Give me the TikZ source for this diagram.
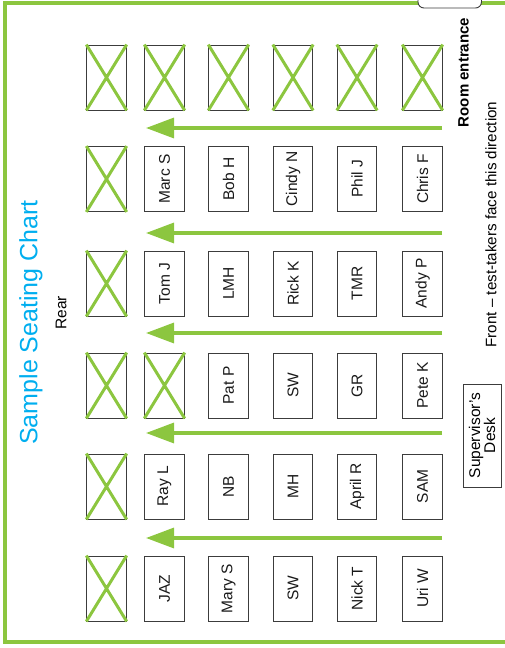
\documentclass[tikz,border=0pt]{standalone}
\usepackage{fontspec}
\setmainfont{Liberation Sans}
\usetikzlibrary{arrows.meta}
\definecolor{Grass}{HTML}{8CC63F}
\definecolor{Sky}{HTML}{00AEEF}
\definecolor{Ink}{HTML}{3C3C3C}
\newcommand{\seatfont}{\fontsize{15.5}{16}\selectfont}
\tikzset{
 seat/.style={draw=Ink, line width=0.9pt, rotate=90, minimum width=65pt, minimum height=39.5pt, inner sep=0pt, font=\seatfont, text=black!90},
 cross/.style={draw=Grass, line width=3pt},
 aisle/.style={draw=Grass, line width=3.2pt, -{Triangle[length=28pt,width=20pt]}},
 wall/.style={draw=Grass, line width=3.2pt},
 door/.style={draw=Ink, line width=0.9pt, fill=white, rounded corners=6pt},
 desk/.style={draw=Ink, line width=0.9pt, rotate=90, minimum width=103pt, minimum height=38pt, inner sep=0pt, align=center, font=\fontsize{15.5}{15}\selectfont}
}

\begin{document}
\begin{tikzpicture}[x=1pt,y=-1pt]
\useasboundingbox (0,0) rectangle (505,648);
\clip (0,0) rectangle (505,648);
% room walls and door
\draw[wall] (418,3) -- (5,3) -- (5,642) -- (505,642);
\draw[wall] (481,3) -- (505,3);
\draw[door] (418,-14) rectangle (481.5,8);
% labels
\node[rotate=90, text=Sky, font=\fontsize{25}{30}\selectfont] (title) at (31,322.5) {Sample Seating Chart};
\node[rotate=90, font=\fontsize{15.5}{16}\selectfont] (rear) at (61,313) {Rear};
\node[rotate=90, font=\bfseries\fontsize{15}{16}\selectfont] (entrance) at (463.5,72.5) {Room entrance};
\node[rotate=90, font=\fontsize{15.2}{16}\selectfont] (front) at (491,224.5) {Front -- test-takers face this direction};
\node[desk] (desk) at (482,435.5) {Supervisor's\\Desk};
% row 1
\node[seat] (r1c1) at (106.5,77.5) {}; \node[seat] (r1c2) at (164.5,77.5) {}; \node[seat] (r1c3) at (228.5,77.5) {};
\node[seat] (r1c4) at (293,77.5) {}; \node[seat] (r1c5) at (357,77.5) {}; \node[seat] (r1c6) at (422.5,77.5) {};
% row 2
\node[seat] (r2c1) at (106.5,179) {}; \node[seat] (r2c2) at (164.5,179) {Marc S}; \node[seat] (r2c3) at (228.5,179) {Bob H};
\node[seat] (r2c4) at (293,179) {Cindy N}; \node[seat] (r2c5) at (357,179) {Phil J}; \node[seat] (r2c6) at (422.5,179) {Chris F};
% row 3
\node[seat] (r3c1) at (106.5,283.5) {}; \node[seat] (r3c2) at (164.5,283.5) {Tom J}; \node[seat] (r3c3) at (228.5,283.5) {LMH};
\node[seat] (r3c4) at (293,283.5) {Rick K}; \node[seat] (r3c5) at (357,283.5) {TMR}; \node[seat] (r3c6) at (422.5,283.5) {Andy P};
% row 4
\node[seat] (r4c1) at (106.5,385.5) {}; \node[seat] (r4c2) at (164.5,385.5) {}; \node[seat] (r4c3) at (228.5,385.5) {Pat P};
\node[seat] (r4c4) at (293,385.5) {SW}; \node[seat] (r4c5) at (357,385.5) {GR}; \node[seat] (r4c6) at (422.5,385.5) {Pete K};
% row 5
\node[seat] (r5c1) at (106.5,486.5) {}; \node[seat] (r5c2) at (164.5,486.5) {Ray L}; \node[seat] (r5c3) at (228.5,486.5) {NB};
\node[seat] (r5c4) at (293,486.5) {MH}; \node[seat] (r5c5) at (357,486.5) {April R}; \node[seat] (r5c6) at (422.5,486.5) {SAM};
% row 6
\node[seat] (r6c1) at (106.5,588.5) {}; \node[seat] (r6c2) at (164.5,588.5) {JAZ}; \node[seat] (r6c3) at (228.5,588.5) {Mary S};
\node[seat] (r6c4) at (293,588.5) {SW}; \node[seat] (r6c5) at (357,588.5) {Nick T}; \node[seat] (r6c6) at (422.5,588.5) {Uri W};
% empty seats
\foreach \s in {r1c1,r1c2,r1c3,r1c4,r1c5,r1c6,r2c1,r3c1,r4c1,r4c2,r5c1,r6c1}
 \draw[cross] (\s.north west) -- (\s.south east) (\s.north east) -- (\s.south west);
% aisles
\foreach \y [count=\i] in {128,233,333,433,538} {
 \coordinate (a\i s) at (442,\y); \coordinate (a\i e) at (146,\y);
 \draw[aisle] (a\i s) -- (a\i e);
}
\end{tikzpicture}
\end{document}
